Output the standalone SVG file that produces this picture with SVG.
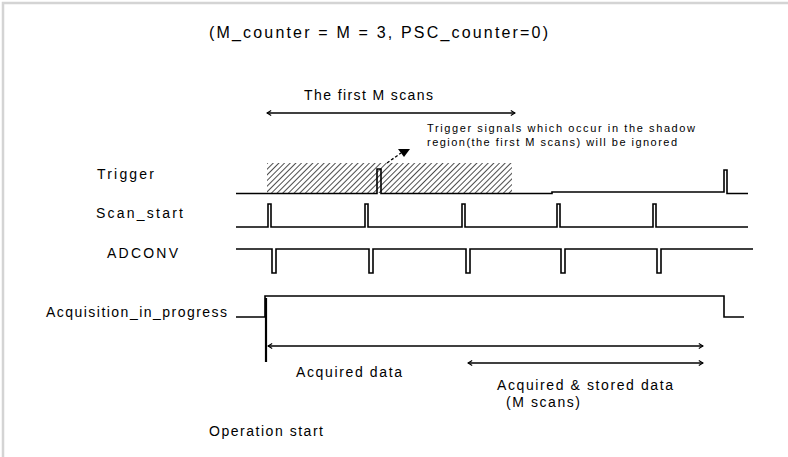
<svg xmlns="http://www.w3.org/2000/svg" width="788" height="457" viewBox="0 0 788 457">
<style>
text{font-family:"Liberation Sans",Arial,sans-serif;fill:#000}
.t{font-size:14px}
.s{font-size:11px}
.w{fill:none;stroke:#000;stroke-width:1.6}
.a{fill:none;stroke:#000;stroke-width:1.5}
</style>
<defs>
<pattern id="hatch" width="4" height="4" patternUnits="userSpaceOnUse" patternTransform="rotate(45)">
<line x1="0" y1="0" x2="0" y2="4" stroke="#000" stroke-width="1.4"/>
</pattern>
<marker id="ah" viewBox="0 0 10 10" refX="9" refY="5" markerWidth="6" markerHeight="6" orient="auto-start-reverse" markerUnits="userSpaceOnUse">
<path d="M2,1 L9,5 L2,9" fill="none" stroke="#000" stroke-width="2"/>
</marker>
</defs>
<path d="M3,457 V3 H788" fill="none" stroke="#d4d4d4" stroke-width="2.5"/>
<text x="209" y="38" textLength="339" lengthAdjust="spacing" style="font-size:16px">(M_counter = M = 3, PSC_counter=0)</text>
<g id="first-m-scans">
<text class="t" x="304" y="100" textLength="129" lengthAdjust="spacing">The first M scans</text>
<line class="a" x1="267" y1="113" x2="515" y2="113" marker-start="url(#ah)" marker-end="url(#ah)"/>
</g>
<g id="note">
<text class="s" x="427" y="132" textLength="268" lengthAdjust="spacing">Trigger signals which occur in the shadow</text>
<text class="s" x="427" y="146" textLength="250" lengthAdjust="spacing">region(the first M scans) will be ignored</text>
</g>
<g id="shadow">
<rect x="267" y="163" width="245" height="30" fill="url(#hatch)"/>
</g>
<g id="trigger">
<text class="t" x="97" y="179" textLength="57" lengthAdjust="spacing">Trigger</text>
<path class="w" d="M236,193.5 H377 V169 H381 V193.5 H552 V192 H724 V170 H727 V193.5 H748"/>
</g>
<g id="scan_start">
<text class="t" x="96" y="218" textLength="87" lengthAdjust="spacing">Scan_start</text>
<path class="w" d="M236,227 H268 V204 H271 V227 H365 V204 H368 V227 H462 V204 H465 V227 H557 V204 H560 V227 H653 V204 H656 V227 H748"/>
</g>
<g id="adconv">
<text class="t" x="107" y="258" textLength="71" lengthAdjust="spacing">ADCONV</text>
<path class="w" d="M236,249 H272 V273 H276 V249 H369 V273 H373 V249 H466 V273 H470 V249 H561 V273 H565 V249 H657 V273 H661 V249 H753"/>
</g>
<g id="acquisition">
<text class="t" x="46" y="317" textLength="181" lengthAdjust="spacing">Acquisition_in_progress</text>
<path class="w" d="M236,317 H265 V296 H724 V317 H744"/>
<line x1="266" y1="298" x2="266" y2="362" stroke="#000" stroke-width="2.2"/>
</g>
<g id="connectors">
<line x1="387" y1="163" x2="401" y2="153" stroke="#000" stroke-width="1.3" stroke-dasharray="3,2"/>
<polygon points="398,149 410,149 404,157" fill="#000"/>
<line class="a" x1="268" y1="346" x2="703" y2="346" marker-start="url(#ah)" marker-end="url(#ah)"/>
<line class="a" x1="468" y1="363" x2="703" y2="363" marker-start="url(#ah)" marker-end="url(#ah)"/>
</g>
<g id="labels">
<text class="t" x="296" y="377" textLength="106" lengthAdjust="spacing">Acquired data</text>
<text class="t" x="497" y="390" textLength="176" lengthAdjust="spacing">Acquired &amp; stored data</text>
<text class="t" x="506" y="407" textLength="74" lengthAdjust="spacing">(M scans)</text>
<text class="t" x="209" y="436" textLength="114" lengthAdjust="spacing">Operation start</text>
</g>
</svg>
